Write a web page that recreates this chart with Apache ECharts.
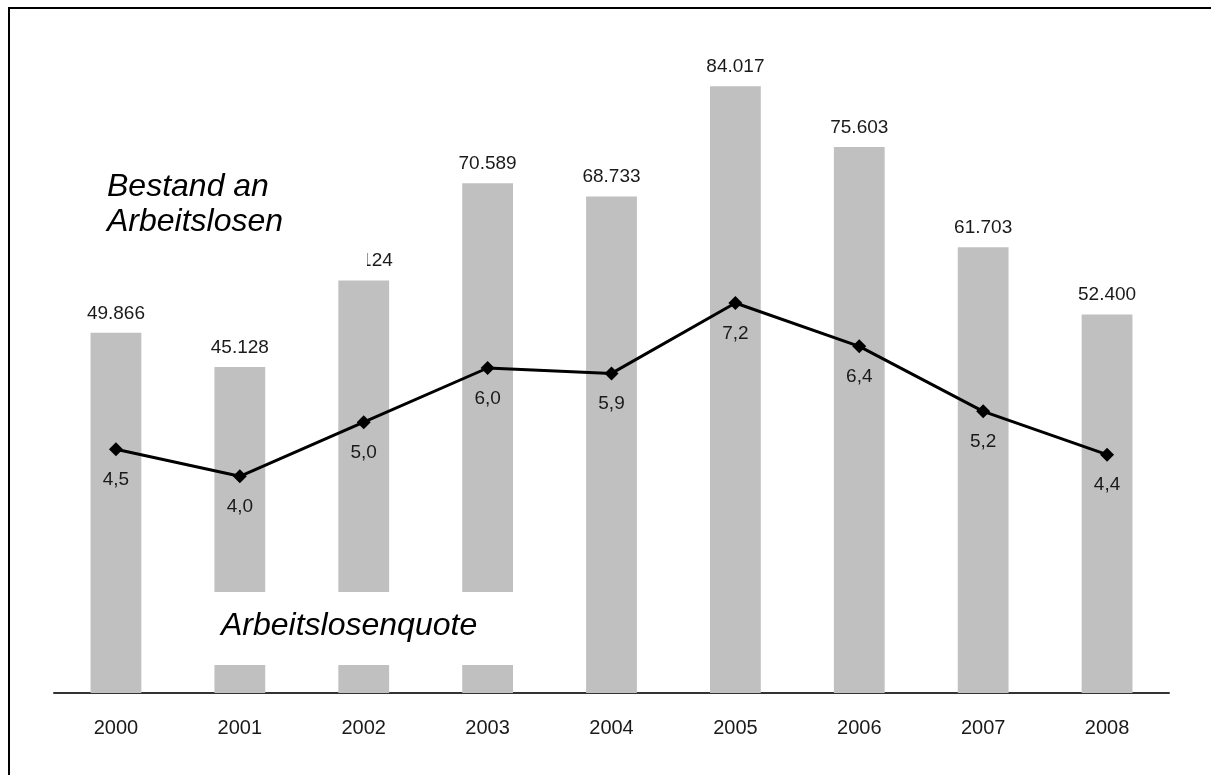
<!DOCTYPE html>
<html>
<head>
<meta charset="utf-8">
<script src="https://cdn.jsdelivr.net/npm/echarts@6/dist/echarts.min.js"></script>
<style>
  html, body { margin: 0; padding: 0; background: #fff; }
  #chart { width: 1211px; height: 775px; }
</style>
</head>
<body>
<div id="chart"></div>
<script>
// Bestand an Arbeitslosen und Arbeitslosenquote, 2000-2008
const years = ['2000', '2001', '2002', '2003', '2004', '2005', '2006', '2007', '2008'];
const bestand = [49866, 45128, 57124, 70589, 68733, 84017, 75603, 61703, 52400];
const quote = [4.5, 4.0, 5.0, 6.0, 5.9, 7.2, 6.4, 5.2, 4.4];

const fmtThousands = v => {
  const s = String(Math.round(v));
  return s.replace(/\B(?=(\d{3})+(?!\d))/g, '.');
};
const fmtComma = v => v.toFixed(1).replace('.', ',');

const chart = echarts.init(document.getElementById('chart'));
const labelFont = { fontFamily: 'Liberation Sans, Arial, sans-serif', fontSize: 19, color: '#1a1a1a' };
const noteFont = 'italic 32px "Liberation Sans", Arial, sans-serif';

chart.setOption({
  animation: false,
  grid: { left: 54, right: 42, top: 43, bottom: 82, containLabel: false },
  xAxis: {
    type: 'category',
    data: years,
    axisTick: { show: false },
    axisLine: { lineStyle: { color: '#333', width: 2 } },
    axisLabel: { ...labelFont, fontSize: 20, margin: 25 }
  },
  yAxis: [
    { type: 'value', min: 0, max: 90000, show: false, splitLine: { show: false } },
    { type: 'value', min: 0, max: 12, show: false, splitLine: { show: false } }
  ],
  series: [
    {
      name: 'Bestand an Arbeitslosen',
      type: 'bar',
      data: bestand,
      barWidth: '41%',
      itemStyle: { color: '#c0c0c0' },
      label: {
        show: true,
        position: 'top',
        distance: 10,
        ...labelFont,
        formatter: p => fmtThousands(p.value)
      },
      z: 1
    },
    {
      name: 'Arbeitslosenquote',
      type: 'line',
      yAxisIndex: 1,
      data: quote,
      symbol: 'diamond',
      symbolSize: 14,
      itemStyle: { color: '#000' },
      lineStyle: { color: '#000', width: 3 },
      label: {
        show: true,
        position: 'bottom',
        distance: 14,
        ...labelFont,
        formatter: p => fmtComma(p.value)
      },
      z: 3
    }
  ],
  graphic: [
    {
      type: 'rect',
      shape: { x: 9, y: 8, width: 1400, height: 1000 },
      style: { fill: 'none', stroke: '#000', lineWidth: 2 },
      z: 100
    },
    {
      type: 'rect',
      shape: { x: 98, y: 155, width: 269, height: 115 },
      style: { fill: '#fff' },
      z: 50
    },
    {
      type: 'text',
      left: 107,
      top: 170,
      style: {
        text: 'Bestand an\nArbeitslosen',
        font: noteFont,
        fill: '#000',
        lineHeight: 35
      },
      z: 51
    },
    {
      type: 'rect',
      shape: { x: 205, y: 592, width: 315, height: 73 },
      style: { fill: '#fff' },
      z: 50
    },
    {
      type: 'text',
      left: 221,
      top: 608,
      style: {
        text: 'Arbeitslosenquote',
        font: noteFont,
        fill: '#000',
        lineHeight: 36
      },
      z: 51
    }
  ]
});
</script>
</body>
</html>
